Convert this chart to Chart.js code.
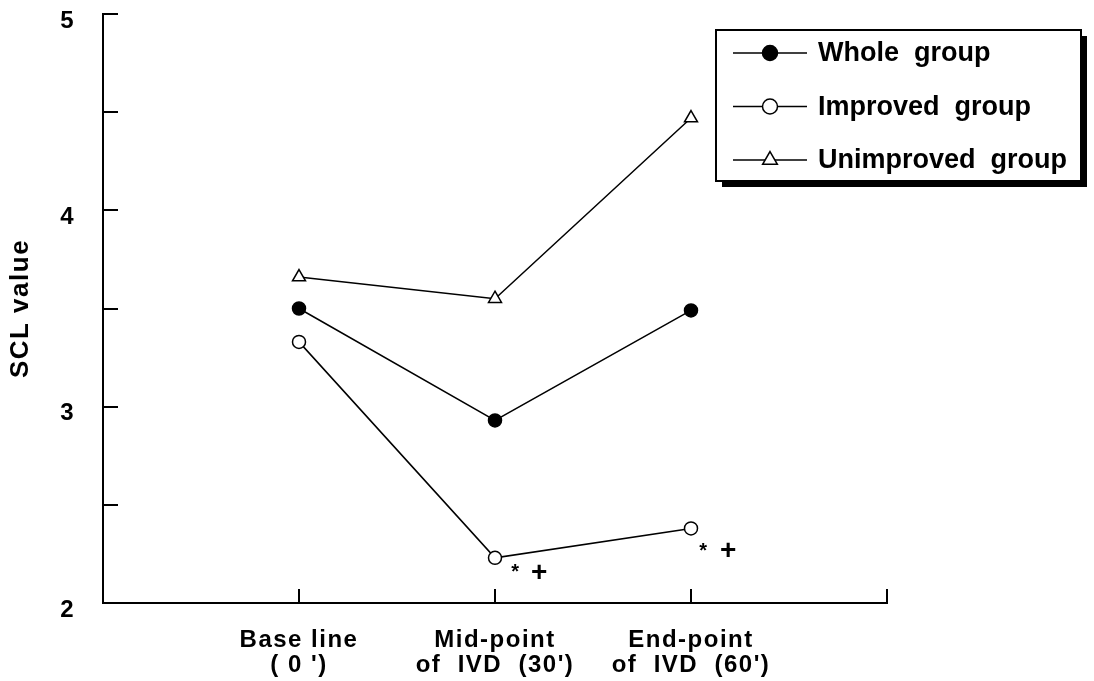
<!DOCTYPE html>
<html>
<head>
<meta charset="utf-8">
<script src="https://cdn.jsdelivr.net/npm/chart.js@4.4.1/dist/chart.umd.min.js"></script>
<style>
  html, body { margin: 0; padding: 0; background: #fff; }
  #wrap { width: 1094px; height: 681px; }
</style>
</head>
<body>
<div id="wrap"><canvas id="scl"></canvas></div>
<script>
// SCL values at the three time points
const timePoints = [1, 2, 3];
const timeLabels = [['Base line', "( 0 ')"], ['Mid-point', "of  IVD  (30')"], ['End-point', "of  IVD  (60')"]];
const wholeGroup = [3.50, 2.93, 3.49];
const improvedGroup = [3.33, 2.23, 2.38];
const unimprovedGroup = [3.66, 3.55, 4.47];
const yTickValues = [2, 2.5, 3, 3.5, 4, 4.5, 5];
const yTickLabels = ['2', '', '3', '', '4', '', '5'];
// improved-group points flagged with "* +"
const flaggedPoints = [{ x: 2, y: 2.23 }, { x: 3, y: 2.38 }];

const FONT = "'Liberation Sans', Arial, sans-serif";
const toPoints = vals => vals.map((v, i) => ({ x: timePoints[i], y: v }));

// letter spacing for the wide-set bold type of the original
const spacing = {
    id: 'spacing',
    beforeLayout(chart) { chart.ctx.letterSpacing = '1.5px'; },
    beforeDraw(chart) { chart.ctx.letterSpacing = '1.5px'; }
};

// inward tick marks on both axes
const innerTicks = {
    id: 'innerTicks',
    afterDatasetsDraw(chart) {
        const { ctx, scales: { x, y }, chartArea: a } = chart;
        ctx.save();
        ctx.strokeStyle = '#000';
        ctx.lineWidth = 2;
        ctx.beginPath();
        yTickValues.slice(1).forEach(v => {
            const py = Math.round(y.getPixelForValue(v));
            ctx.moveTo(a.left, py);
            ctx.lineTo(a.left + 15, py);
        });
        [1, 2, 3, 4].forEach(v => {
            const px = Math.round(x.getPixelForValue(v));
            ctx.moveTo(px, a.bottom);
            ctx.lineTo(px, a.bottom - 14);
        });
        ctx.stroke();
        ctx.restore();
    }
};

// "* +" marks next to flagged points
const flags = {
    id: 'flags',
    afterDatasetsDraw(chart) {
        const { ctx, scales: { x, y } } = chart;
        const offsets = [[[21, 12], [45, 15]], [[13, 20], [38, 23]]];
        ctx.save();
        ctx.fillStyle = '#000';
        ctx.textAlign = 'center';
        ctx.textBaseline = 'middle';
        flaggedPoints.forEach((p, i) => {
            const px = x.getPixelForValue(p.x);
            const py = y.getPixelForValue(p.y);
            ctx.font = 'bold 20px ' + FONT;
            ctx.fillText('*', px + offsets[i][0][0], py + offsets[i][0][1] + 3);
            ctx.font = 'bold 28px ' + FONT;
            ctx.fillText('+', px + offsets[i][1][0], py + offsets[i][1][1]);
        });
        ctx.restore();
    }
};

// boxed legend with drop shadow
const boxLegend = {
    id: 'boxLegend',
    afterDraw(chart) {
        const ctx = chart.ctx;
        const bx = 716, by = 30, bw = 365, bh = 151;
        ctx.save();
        ctx.letterSpacing = '0px';
        ctx.fillStyle = '#000';
        ctx.fillRect(bx + 6, by + 6, bw, bh);
        ctx.fillStyle = '#fff';
        ctx.fillRect(bx, by, bw, bh);
        ctx.strokeStyle = '#000';
        ctx.lineWidth = 2;
        ctx.strokeRect(bx, by, bw, bh);
        chart.data.datasets.forEach((ds, i) => {
            const ry = by + 23 + i * 53.5;
            ctx.strokeStyle = '#000';
            ctx.lineWidth = 1.5;
            ctx.beginPath();
            ctx.moveTo(733, ry);
            ctx.lineTo(807, ry);
            ctx.stroke();
            ctx.fillStyle = ds.pointBackgroundColor;
            ctx.strokeStyle = '#000';
            ctx.lineWidth = 1.5;
            Chart.helpers.drawPoint(ctx, {
                pointStyle: ds.pointStyle, rotation: 0,
                radius: ds.pointRadius + 1, borderWidth: 1.5
            }, 770, ry);
            ctx.fillStyle = '#000';
            ctx.font = 'bold 27px ' + FONT;
            ctx.textAlign = 'left';
            ctx.textBaseline = 'middle';
            ctx.fillText(ds.label.replace(' ', '  '), 818, ry + 1);
        });
        ctx.restore();
    }
};

const lineStyle = (label, data, fill, style, r) => ({
    label,
    data: toPoints(data),
    borderColor: '#000',
    borderWidth: 1.5,
    pointStyle: style,
    pointRadius: r,
    pointBorderWidth: 1.5,
    pointBorderColor: '#000',
    pointBackgroundColor: fill,
    pointHoverRadius: r,
    tension: 0
});

new Chart(document.getElementById('scl'), {
    type: 'line',
    data: {
        datasets: [
            lineStyle('Whole group', wholeGroup, '#000', 'circle', 6.5),
            lineStyle('Improved group', improvedGroup, '#fff', 'circle', 6.5),
            lineStyle('Unimproved group', unimprovedGroup, '#fff', 'triangle', 7.5)
        ]
    },
    options: {
        responsive: true,
        maintainAspectRatio: false,
        animation: false,
        layout: { padding: { top: 14, right: 207, left: 0, bottom: 0 } },
        plugins: { legend: { display: false }, tooltip: { enabled: false } },
        scales: {
            x: {
                type: 'linear',
                min: 0,
                max: 4,
                afterFit: s => { s.height = 78; s.paddingLeft = 0; s.paddingRight = 0; },
                afterBuildTicks: s => { s.ticks = [0, 1, 2, 3, 4].map(v => ({ value: v })); },
                grid: { display: false },
                border: { display: true, color: '#000', width: 2 },
                ticks: {
                    color: '#000',
                    padding: 17,
                    maxRotation: 0,
                    autoSkip: false,
                    font: { family: FONT, size: 24, weight: 'bold', lineHeight: 1.05 },
                    callback: v => {
                        const i = timePoints.indexOf(v);
                        return i >= 0 ? timeLabels[i] : '';
                    }
                }
            },
            y: {
                min: 2,
                max: 5,
                afterFit: s => { s.width = 103; s.paddingTop = 0; s.paddingBottom = 0; },
                afterBuildTicks: s => { s.ticks = yTickValues.map(v => ({ value: v })); },
                grid: { display: false },
                border: { display: true, color: '#000', width: 2 },
                title: {
                    display: true,
                    text: 'SCL value',
                    color: '#000',
                    padding: { top: 5, bottom: 0 },
                    font: { family: FONT, size: 26, weight: 'bold' }
                },
                ticks: {
                    color: '#000',
                    padding: 20,
                    labelOffset: 7,
                    autoSkip: false,
                    font: { family: FONT, size: 24, weight: 'bold' },
                    callback: v => yTickLabels[yTickValues.indexOf(v)]
                }
            }
        }
    },
    plugins: [spacing, innerTicks, flags, boxLegend]
});
</script>
</body>
</html>
